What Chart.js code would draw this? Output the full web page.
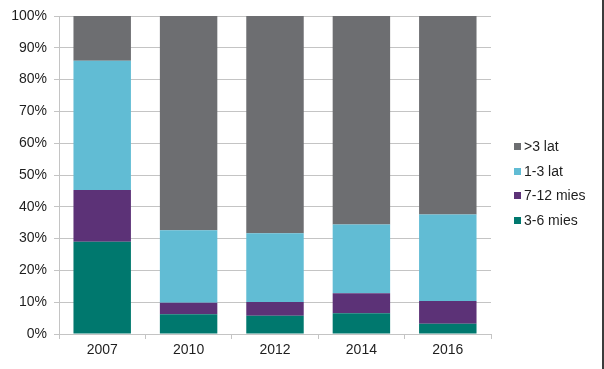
<!DOCTYPE html>
<html>
<head>
<meta charset="utf-8">
<script src="https://cdn.jsdelivr.net/npm/chart.js@4.4.0/dist/chart.umd.min.js"></script>
<style>
  html, body { margin: 0; padding: 0; background: #fff; }
  #wrap { position: relative; width: 604px; height: 369px; overflow: hidden; }
  #edge { position: absolute; right: 0; top: 0; width: 2px; height: 369px; background: #3c3c3c; }
  #legend { position: absolute; left: 514px; top: 138px; font: 14px "Liberation Sans", Arial, sans-serif; color: #1e1e1e; }
  #legend div { height: 24.7px; line-height: 17px; white-space: nowrap; }
  #legend span { display: inline-block; width: 7px; height: 7px; margin-right: 3px; vertical-align: 1px; }
</style>
</head>
<body>
<div id="wrap">
  <canvas id="chart" width="604" height="369"></canvas>
  <div id="legend"></div>
  <div id="edge"></div>
</div>
<script>
// categories
const years = ['2007', '2010', '2012', '2014', '2016'];

// shares in %
const m3to6 = [29.0, 6.2, 5.7, 6.5, 3.2];
const m7to12 = [16.3, 3.6, 4.4, 6.3, 7.2];
const y1to3 = [40.6, 22.8, 21.6, 21.6, 27.2];
const over3 = [14.1, 67.4, 68.3, 65.6, 62.4];

const seriesNames = ['3-6 mies', '7-12 mies', '1-3 lat', '>3 lat'];
const seriesColors = ['#00786e', '#5c3277', '#61bcd4', '#6d6e71'];
const yTicks = [0, 10, 20, 30, 40, 50, 60, 70, 80, 90, 100];

const font = { family: '"Liberation Sans", Arial, sans-serif', size: 14 };
const gridColor = '#c4c4c4';

const values = [m3to6, m7to12, y1to3, over3];

new Chart(document.getElementById('chart'), {
  type: 'bar',
  data: {
    labels: years,
    datasets: values.map((v, i) => ({
      label: seriesNames[i],
      data: v,
      backgroundColor: seriesColors[i],
      borderWidth: 0,
      barPercentage: 0.665,
      categoryPercentage: 1
    }))
  },
  options: {
    responsive: false,
    animation: false,
    layout: { padding: { top: 16, right: 113, bottom: 0, left: 0 } },
    plugins: { legend: { display: false }, tooltip: { enabled: false } },
    scales: {
      x: {
        stacked: true,
        grid: { display: true, drawOnChartArea: false, drawTicks: true, tickLength: 5, color: gridColor, offset: true },
        border: { color: gridColor },
        ticks: { font: font, color: '#1e1e1e', padding: 3 },
        afterFit: s => { s.height = 35; }
      },
      y: {
        stacked: true,
        min: 0,
        max: 100,
        afterBuildTicks: s => { s.ticks = yTicks.map(v => ({ value: v })); },
        grid: { color: gridColor, tickLength: 5 },
        border: { color: gridColor },
        ticks: { font: font, color: '#1e1e1e', padding: 7, callback: v => v + '%' },
        afterFit: s => { s.width = 59; }
      }
    }
  }
});

// legend, reversed like the original
const legend = document.getElementById('legend');
for (let i = seriesNames.length - 1; i >= 0; i--) {
  const row = document.createElement('div');
  const box = document.createElement('span');
  box.style.background = seriesColors[i];
  row.appendChild(box);
  row.appendChild(document.createTextNode(seriesNames[i]));
  legend.appendChild(row);
}
</script>
</body>
</html>
